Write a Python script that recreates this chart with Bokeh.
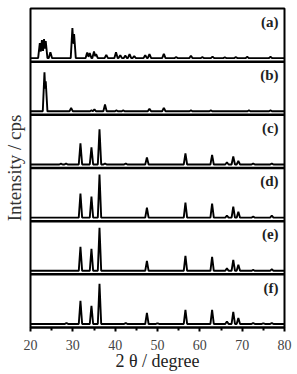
import numpy as np
from bokeh.plotting import figure
from bokeh.models import Range1d, FixedTicker, Span, ColumnDataSource
from bokeh.core.properties import value
from bokeh.embed import file_html
from bokeh.resources import INLINE

# ---- data (peak position in 2theta, relative intensity) ----
panel_labels = ["(a)", "(b)", "(c)", "(d)", "(e)", "(f)"]

a_pos = [22.2, 22.7, 23.2, 23.6, 24.7, 29.9, 30.3, 33.4, 34.0, 35.0, 35.5, 37.9, 40.2,
         41.2, 42.4, 43.4, 44.5, 47.1, 48.1, 51.5, 54.4, 57.9, 60.6, 63.0, 65.9, 68.5, 71.2, 76.7]
a_int = [15, 18, 19, 17, 6, 30, 24, 5.7, 5, 6.7, 4, 3.3, 6,
         3, 2.5, 4, 2, 3, 4, 4.3, 1, 2.3, 1, 1.5, 0.8, 1, 1.3, 1.3]

b_pos = [23.3, 23.6, 29.6, 34.4, 35.1, 37.6, 40.3, 41.9, 48.1, 51.5, 57.9, 62.6, 71.6, 76.7]
b_int = [39, 30, 3.3, 1, 2, 6.7, 1, 1, 2.5, 3.5, 1, 1, 1, 1]

c_pos = [27.2, 28.4, 31.8, 34.4, 36.3, 37.6, 42.5, 47.5, 56.6, 62.9, 66.4, 67.9, 69.1, 72.6, 77.0]
c_int = [0.8, 1, 21, 17, 35, 1, 1, 7, 11, 9.5, 2, 8, 3.5, 1, 1]

d_pos = [31.8, 34.4, 36.3, 47.5, 56.6, 62.9, 66.4, 67.9, 69.1, 72.6, 77.0]
d_int = [24, 21, 43, 10, 15, 14, 2, 11, 6, 1, 2]

e_pos = [31.8, 34.4, 36.3, 47.5, 56.6, 62.9, 66.4, 67.9, 69.1, 72.6, 77.0]
e_int = [24, 22, 43, 10, 15, 14, 2.5, 11, 6, 1, 1.5]

f_pos = [28.5, 31.8, 34.4, 36.3, 42.5, 47.5, 50.0, 56.6, 62.9, 66.4, 67.9, 69.1, 72.6, 75.0, 77.0]
f_int = [1, 23, 18, 40, 1, 11, 0.7, 14, 14, 2.5, 12, 6, 1, 0.7, 1]

x_ticks = [20, 30, 40, 50, 60, 70, 80]

patterns = [(a_pos, a_int), (b_pos, b_int), (c_pos, c_int),
            (d_pos, d_int), (e_pos, e_int), (f_pos, f_int)]

PANEL_PX = 53.0      # one panel height in px (for scaling the intensities)
BASE = 0.066         # baseline offset inside a panel
HALF_W = 0.4         # half width of peak profile in degrees

p = figure(width=297, height=374, output_backend="svg", toolbar_location=None,
           x_range=Range1d(20, 80), y_range=Range1d(0, 6),
           min_border_left=29, min_border_right=13, min_border_top=8, min_border_bottom=47)
p.background_fill_color = "white"
p.border_fill_color = "white"
p.xgrid.visible = False
p.ygrid.visible = False
p.outline_line_color = "black"
p.outline_line_width = 2
p.outline_line_alpha = 1

grid = np.arange(20.0, 80.0001, 0.05)
for i, (pos, inten) in enumerate(patterns):
    off = 5 - i
    y = np.zeros_like(grid)
    for c, h in zip(pos, inten):
        prof = h * np.clip(1 - np.abs(grid - c) / HALF_W, 0, None)
        y = np.maximum(y, prof)
    src = ColumnDataSource(dict(x=grid, y=off + BASE + y / PANEL_PX))
    p.line("x", "y", source=src, line_color="black", line_width=1.9)

for k in range(1, 6):
    p.add_layout(Span(location=k, dimension="width", line_color="black", line_width=2.5))

lab_src = ColumnDataSource(dict(x=[78.6] * 6, y=[6 - i - 0.25 for i in range(6)], t=panel_labels))
p.text("x", "y", text="t", source=lab_src, text_align="right", text_baseline="middle",
       text_font=value("Liberation Serif"), text_font_style="bold", text_font_size="15px",
       text_color="#222222")

xa = p.xaxis[0]
xa.ticker = FixedTicker(ticks=x_ticks, minor_ticks=[25, 35, 45, 55, 65, 75])
xa.axis_line_width = 2
xa.axis_line_color = "black"
xa.major_tick_line_width = 2
xa.minor_tick_line_width = 2
xa.major_tick_in = 0
xa.major_tick_out = 4
xa.minor_tick_in = 0
xa.minor_tick_out = 3
xa.major_label_standoff = 8
xa.major_label_text_font = "Liberation Serif"
xa.major_label_text_font_size = "14px"
xa.major_label_text_color = "#444444"
xa.axis_label = "2 θ / degree"
xa.axis_label_text_font = "Liberation Serif"
xa.axis_label_text_font_size = "18px"
xa.axis_label_text_font_style = "normal"
xa.axis_label_text_color = "#222222"
xa.axis_label_standoff = -2

ya = p.yaxis[0]
ya.ticker = FixedTicker(ticks=[])
ya.axis_line_color = None
ya.major_tick_line_color = None
ya.minor_tick_line_color = None
ya.axis_label = "Intensity / cps"
ya.axis_label_text_font = "Liberation Serif"
ya.axis_label_text_font_size = "19px"
ya.axis_label_text_font_style = "normal"
ya.axis_label_text_color = "#333333"
ya.axis_label_standoff = 6

open("out.html", "w").write(file_html(p, INLINE))
